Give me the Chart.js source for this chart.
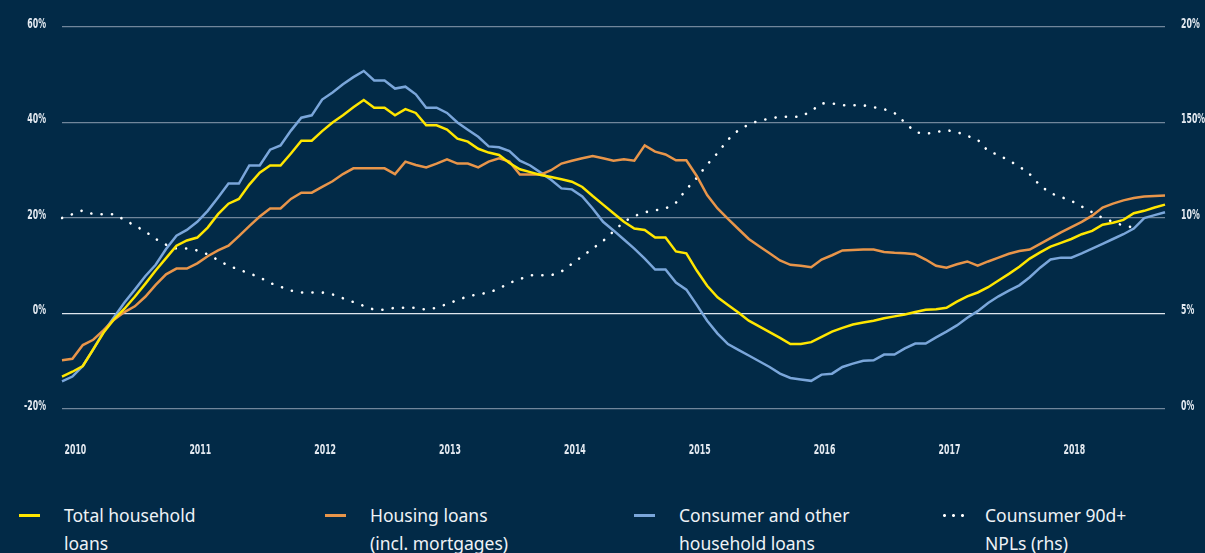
<!DOCTYPE html>
<html>
<head>
<meta charset="utf-8">
<script src="https://cdn.jsdelivr.net/npm/chart.js@4.4.0/dist/chart.umd.min.js"></script>
<style>
  html, body { margin: 0; padding: 0; background: #022a47; }
  #wrap { position: relative; width: 1205px; height: 553px; overflow: hidden; background: #022a47; }
  #myChart { position: absolute; left: 0; top: 0; }
  #legend { position: absolute; left: 0; top: 501px; width: 1205px; font-family: 'Noto Sans', sans-serif; font-size: 17.5px; line-height: 28px; color: #eef2f6; }
  .item { position: absolute; top: 0; }
  .swatch { position: absolute; top: 13px; width: 21px; height: 3px; }
  .label { position: absolute; left: 45px; white-space: nowrap; }
</style>
</head>
<body>
<div id="wrap">
  <canvas id="myChart" width="1205" height="470"></canvas>
  <div id="legend"></div>
</div>
<script>
// monthly points, Dec 2009 .. Oct 2018
var startYear = 2009, startMonth = 11, nPoints = 107;
var years = ['2010', '2011', '2012', '2013', '2014', '2015', '2016', '2017', '2018'];
var rightTicks = ['0%', '5%', '10%', '150%', '20%'];

var totalLoans = [
  -13.2, -12.2, -11.0, -7.5, -4.0, -1.2, 1.0, 3.5, 6.2, 9.0,
  11.6, 14.2, 15.3, 15.9, 18.0, 20.8, 23.0, 24.0, 27.0, 29.5,
  31.0, 31.0, 33.5, 36.2, 36.2, 38.2, 40.0, 41.5, 43.2, 44.7,
  43.1, 43.1, 41.5, 42.8, 42.0, 39.4, 39.4, 38.5, 36.6, 36.0,
  34.5, 33.7, 33.2, 31.5, 30.2, 29.6, 29.0, 28.6, 28.1, 27.6,
  26.5, 24.6, 22.8, 21.0, 19.2, 17.8, 17.5, 15.9, 15.9, 13.0,
  12.6, 9.0, 5.8, 3.4, 1.8, 0.2, -1.5, -2.7, -3.9, -5.1,
  -6.4, -6.4, -6.0, -4.9, -3.8, -3.0, -2.3, -1.9, -1.5, -1.0,
  -0.6, -0.2, 0.3, 0.8, 0.9, 1.2, 2.5, 3.6, 4.4, 5.5,
  6.9, 8.3, 9.8, 11.5, 12.8, 14.0, 14.8, 15.6, 16.6, 17.3,
  18.6, 19.0, 19.6, 21.0, 21.5, 22.2, 22.8
];

var housingLoans = [
  -9.8, -9.5, -6.6, -5.5, -3.5, -1.3, 0.3, 1.5, 3.5, 6.0,
  8.2, 9.4, 9.4, 10.5, 12.0, 13.2, 14.2, 16.2, 18.3, 20.3,
  22.0, 22.0, 24.0, 25.3, 25.3, 26.5, 27.7, 29.2, 30.4, 30.4,
  30.4, 30.4, 29.2, 31.8, 31.1, 30.6, 31.4, 32.3, 31.4, 31.4,
  30.6, 31.8, 32.5, 31.8, 29.1, 29.1, 29.1, 30.0, 31.4, 32.0,
  32.5, 33.0, 32.5, 32.0, 32.3, 32.0, 35.2, 33.9, 33.3, 32.1,
  32.1, 28.8, 24.8, 22.0, 19.8, 17.7, 15.6, 14.1, 12.6, 11.1,
  10.2, 10.0, 9.7, 11.3, 12.2, 13.2, 13.3, 13.4, 13.4, 12.9,
  12.7, 12.6, 12.4, 11.3, 10.0, 9.6, 10.3, 10.9, 10.0, 10.9,
  11.7, 12.5, 13.1, 13.4, 14.6, 15.8, 17.0, 18.1, 19.2, 20.5,
  22.2, 23.0, 23.7, 24.2, 24.5, 24.6, 24.7
];

var consumerLoans = [
  -14.2, -13.2, -11.0, -7.5, -3.8, -0.8, 2.3, 5.0, 7.8, 10.2,
  13.5, 16.3, 17.5, 19.2, 21.5, 24.3, 27.2, 27.2, 31.0, 31.0,
  34.3, 35.2, 38.3, 41.0, 41.5, 44.8, 46.3, 48.0, 49.5, 50.8,
  48.8, 48.8, 47.1, 47.5, 45.9, 43.1, 43.1, 42.0, 40.0, 38.5,
  37.0, 35.0, 34.8, 34.0, 32.0, 31.0, 29.5, 28.0, 26.2, 26.0,
  24.5, 22.0, 19.2, 17.4, 15.5, 13.6, 11.5, 9.2, 9.2, 6.5,
  5.0, 1.8, -1.5, -4.2, -6.4, -7.6, -8.8, -10.0, -11.2, -12.6,
  -13.5, -13.8, -14.1, -12.8, -12.6, -11.2, -10.5, -9.9, -9.8, -8.6,
  -8.6, -7.3, -6.3, -6.3, -5.0, -3.8, -2.5, -0.9, 0.5, 2.2,
  3.6, 4.8, 5.9, 7.6, 9.6, 11.3, 11.7, 11.7, 12.6, 13.6,
  14.6, 15.6, 16.6, 17.8, 20.0, 20.6, 21.2
];

var consumerNpl = [
  10.0, 10.2, 10.4, 10.2, 10.2, 10.2, 9.9, 9.6, 9.3, 8.9,
  8.6, 8.4, 8.4, 8.3, 8.1, 7.8, 7.5, 7.3, 7.1, 6.9,
  6.6, 6.4, 6.2, 6.1, 6.1, 6.1, 6.0, 5.8, 5.6, 5.4,
  5.2, 5.2, 5.3, 5.3, 5.3, 5.2, 5.3, 5.5, 5.7, 5.9,
  6.0, 6.1, 6.3, 6.6, 6.8, 7.0, 7.0, 7.0, 7.2, 7.6,
  8.0, 8.4, 8.8, 9.3, 9.8, 10.1, 10.3, 10.4, 10.5, 10.8,
  11.5, 12.1, 12.8, 13.4, 14.1, 14.6, 14.9, 15.1, 15.2, 15.3,
  15.3, 15.3, 15.6, 16.0, 16.0, 15.9, 15.9, 15.9, 15.8, 15.7,
  15.5, 15.0, 14.5, 14.4, 14.5, 14.6, 14.5, 14.3, 14.1, 13.5,
  13.3, 13.0, 12.7, 12.3, 11.7, 11.3, 11.1, 10.9, 10.6, 10.3,
  10.0, 9.8, 9.6, 9.5, null, null, null
];

var seriesNames = [
  ['Total household', 'loans'],
  ['Housing loans', '(incl. mortgages)'],
  ['Consumer and other', 'household loans'],
  ['Counsumer 90d+', 'NPLs (rhs)']
];
var seriesColors = ['#ffe600', '#e8954a', '#7aa6da', '#ffffff'];

var monthNames = ['Jan', 'Feb', 'Mar', 'Apr', 'May', 'Jun', 'Jul', 'Aug', 'Sep', 'Oct', 'Nov', 'Dec'];
var months = [];
for (var i = 0; i < nPoints; i++) {
  var m = (startMonth + i) % 12;
  var y = startYear + Math.floor((startMonth + i) / 12);
  months.push(monthNames[m] + ' ' + y);
}

var tickColor = '#e4eaf1';

// tick labels in a narrow bold face (the original uses a condensed font)
var narrowLabels = {
    id: 'narrowLabels',
    afterDraw: function (chart) {
        var c = chart.ctx, area = chart.chartArea;
        c.save();
        c.fillStyle = tickColor;
        c.font = 'bold 14.5px "DejaVu Sans Condensed", "DejaVu Sans", sans-serif';
        c.textBaseline = 'middle';
        ['x', 'y', 'y2'].forEach(function (id) {
            var s = chart.scales[id];
            s.ticks.forEach(function (t, i) {
                if (!t.label) return;
                var p = s.getPixelForTick(i), x, yy;
                if (id === 'x') { x = p + 3; yy = area.bottom + 41; c.textAlign = 'center'; }
                else if (id === 'y') { x = area.left - 16; yy = p - 3; c.textAlign = 'right'; }
                else { x = area.right + 16; yy = p - 3; c.textAlign = 'left'; }
                c.save();
                c.translate(x, yy);
                c.scale(0.6, 1);
                c.fillText(t.label, 0, 0);
                c.restore();
            });
        });
        c.restore();
    }
};

var ctx = document.getElementById('myChart').getContext('2d');
var myChart = new Chart(ctx, {
    type: 'line',
    data: {
        labels: months,
        datasets: [{
            label: seriesNames[0].join(' '),
            data: totalLoans,
            borderColor: seriesColors[0],
            borderWidth: 2.5,
            yAxisID: 'y'
        }, {
            label: seriesNames[1].join(' '),
            data: housingLoans,
            borderColor: seriesColors[1],
            borderWidth: 2.5,
            yAxisID: 'y'
        }, {
            label: seriesNames[2].join(' '),
            data: consumerLoans,
            borderColor: seriesColors[2],
            borderWidth: 2.5,
            yAxisID: 'y'
        }, {
            label: seriesNames[3].join(' '),
            data: consumerNpl,
            borderColor: seriesColors[3],
            borderWidth: 2.6,
            borderDash: [0.1, 10.3],
            borderCapStyle: 'round',
            yAxisID: 'y2'
        }]
    },
    options: {
        responsive: false,
        animation: false,
        elements: { point: { radius: 0 }, line: { tension: 0 } },
        layout: { padding: { top: 27, bottom: 0, left: 0, right: 0 } },
        plugins: { legend: { display: false }, tooltip: { enabled: false } },
        scales: {
            x: {
                grid: { display: false, drawTicks: false },
                border: { display: false },
                ticks: {
                    display: false,
                    autoSkip: false,
                    maxRotation: 0,
                    callback: function (v, i) {
                        return months[i].indexOf('Jan') === 0 ? years[years.indexOf(months[i].slice(4))] : '';
                    }
                },
                afterFit: function (s) { s.height = 61; }
            },
            y: {
                position: 'left',
                min: -20,
                max: 60,
                grid: {
                    drawTicks: false,
                    lineWidth: 1.2,
                    color: function (c) { return c.tick && c.tick.value === 0 ? '#dfe6ee' : '#71869b'; }
                },
                border: { display: false },
                ticks: {
                    display: false,
                    stepSize: 20,
                    callback: function (v) { return v + '%'; }
                },
                afterFit: function (s) { s.width = 62; }
            },
            y2: {
                position: 'right',
                min: 0,
                max: 20,
                grid: { display: false },
                border: { display: false },
                ticks: {
                    display: false,
                    stepSize: 5,
                    callback: function (v, i) { return rightTicks[i]; }
                },
                afterFit: function (s) { s.width = 40; }
            }
        }
    },
    plugins: [narrowLabels]
});

// legend below the chart
var legendLeft = [19, 325, 634, 940];
var legend = document.getElementById('legend');
seriesNames.forEach(function (name, i) {
    var item = document.createElement('div');
    item.className = 'item';
    item.style.left = legendLeft[i] + 'px';
    var sw = document.createElement('div');
    sw.className = 'swatch';
    if (i === 3) {
        sw.style.width = '24px';
        sw.style.background = 'radial-gradient(circle, #ffffff 1.2px, transparent 1.7px) 0 0 / 9px 3px repeat-x';
    } else {
        sw.style.background = seriesColors[i];
    }
    var lb = document.createElement('div');
    lb.className = 'label';
    lb.innerHTML = name[0] + '<br>' + name[1];
    item.appendChild(sw);
    item.appendChild(lb);
    legend.appendChild(item);
});
</script>
</body>
</html>
